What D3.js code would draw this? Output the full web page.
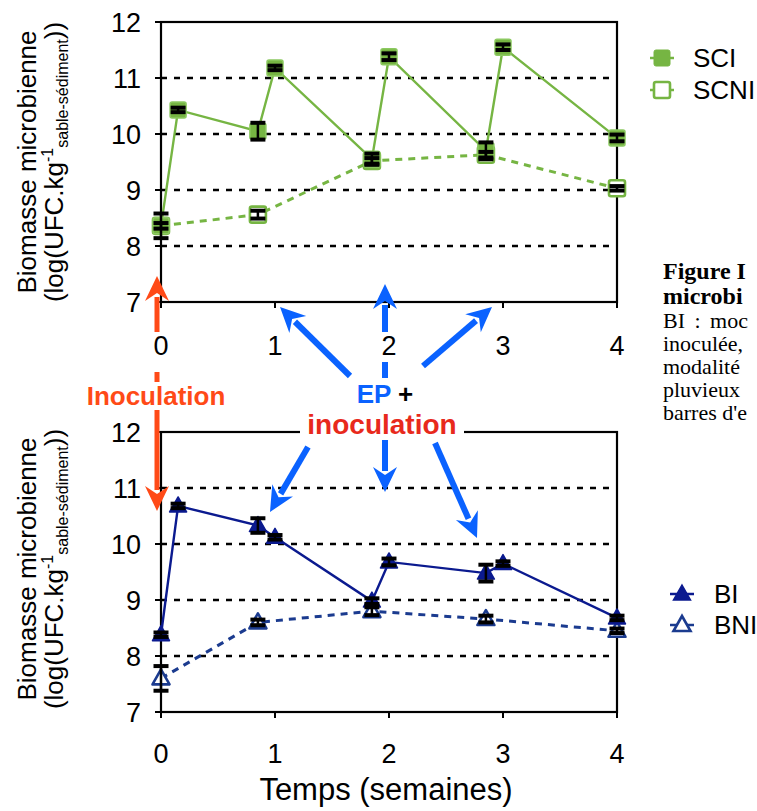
<!DOCTYPE html>
<html>
<head>
<meta charset="utf-8">
<script src="https://cdn.jsdelivr.net/npm/d3@7"></script>
<style>
  body { margin: 0; background: #fff; }
  svg { display: block; font-family: "Liberation Sans", Arial, sans-serif; }
</style>
</head>
<body>
<svg id="chart" width="757" height="811"></svg>
<script>
// weeks for inoculated series (before / after each inoculation)
var weeks = [0, 0.15, 0.85, 1, 1.85, 2, 2.85, 3, 4];
var weeksNI = [0, 0.85, 1.85, 2.85, 4];

var sci = [8.36, 10.43, 10.05, 11.18, 9.55, 11.38, 9.7, 11.55, 9.93];
var sciErr = [0.22, 0.04, 0.15, 0.04, 0.1, 0.06, 0.15, 0.05, 0.06];
var scni = [8.36, 8.56, 9.52, 9.63, 9.03];
var scniErr = [0.05, 0.07, 0.05, 0.05, 0.04];

var bi = [8.38, 10.68, 10.33, 10.12, 8.98, 9.68, 9.48, 9.65, 8.68];
var biErr = [0.04, 0.04, 0.13, 0.04, 0.05, 0.06, 0.15, 0.04, 0.04];
var bni = [7.6, 8.6, 8.8, 8.66, 8.45];
var bniErr = [0.22, 0.05, 0.07, 0.06, 0.04];

var xTicks = [0, 1, 2, 3, 4];
var yTicks = [7, 8, 9, 10, 11, 12];
var gridVals = [8, 9, 10, 11];

var green = "#76b543", navy = "#0b1a8f", navyLight = "#1b3b8f";
var blue = "#0a62ff", red = "#ff4a17", red2 = "#e8291c";

var svg = d3.select("#chart");

var x = d3.scaleLinear().domain([0, 4]).range([161, 617]);
var yTop = d3.scaleLinear().domain([7, 12]).range([302, 22]);
var yBot = d3.scaleLinear().domain([7, 12]).range([712, 432]);

var zip = function(xs, ys, es) {
    return xs.map(function(d, i) { return { x: d, y: ys[i], e: es[i] }; });
};

var drawPanel = function(y) {
    var g = svg.append("g");
    g.selectAll("line.grid")
        .data(gridVals)
      .enter().append("line")
        .attr("x1", x(0)).attr("x2", x(4))
        .attr("y1", y).attr("y2", y)
        .attr("stroke", "#000").attr("stroke-width", 2.5)
        .attr("stroke-dasharray", "6,7");
    g.append("rect")
        .attr("x", x(0)).attr("y", y(12))
        .attr("width", x(4) - x(0)).attr("height", y(7) - y(12))
        .attr("fill", "none").attr("stroke", "#000").attr("stroke-width", 2.2);
    g.selectAll("line.xt")
        .data(xTicks)
      .enter().append("line")
        .attr("x1", x).attr("x2", x)
        .attr("y1", y(7)).attr("y2", y(7) + 6)
        .attr("stroke", "#000").attr("stroke-width", 2);
    g.selectAll("line.yt")
        .data(yTicks)
      .enter().append("line")
        .attr("x1", x(0) - 6).attr("x2", x(0))
        .attr("y1", y).attr("y2", y)
        .attr("stroke", "#000").attr("stroke-width", 2);
    g.selectAll("text.yl")
        .data(yTicks)
      .enter().append("text")
        .attr("x", 141).attr("y", function(d) { return y(d) + 10; })
        .attr("text-anchor", "end").attr("font-size", 27)
        .text(function(d) { return d; });
    return g;
};

var drawXLabels = function(yPos) {
    var g = svg.append("g");
    xTicks.forEach(function(d) {
        g.append("rect").attr("x", x(d) - 10).attr("y", yPos - 23)
            .attr("width", 20).attr("height", 30).attr("fill", "#fff");
        g.append("text").attr("x", x(d)).attr("y", yPos)
            .attr("text-anchor", "middle").attr("font-size", 27).text(d);
    });
};

var drawSeries = function(y, data, color, dashed, marker, filled) {
    var line = d3.line().x(function(d) { return x(d.x); }).y(function(d) { return y(d.y); });
    svg.append("path").datum(data)
        .attr("d", line).attr("fill", "none")
        .attr("stroke", color).attr("stroke-width", dashed ? 3 : 2.4)
        .attr("stroke-dasharray", dashed ? "7,6" : null);
    var m = svg.append("g");
    data.forEach(function(d) {
        var cx = x(d.x), cy = y(d.y);
        if (marker === "square") {
            m.append("rect").attr("x", cx - 8).attr("y", cy - 8)
                .attr("width", 16).attr("height", 16).attr("rx", 2)
                .attr("fill", filled ? color : "#fff")
                .attr("stroke", filled ? "#8cc961" : color).attr("stroke-width", filled ? 1.5 : 2.6);
        } else {
            m.append("path")
                .attr("d", "M" + cx + "," + (cy - 9) + "L" + (cx + 8.5) + "," + (cy + 6) + "L" + (cx - 8.5) + "," + (cy + 6) + "Z")
                .attr("fill", filled ? color : "#fff")
                .attr("stroke", color).attr("stroke-width", filled ? 1.5 : 2.6)
                .attr("stroke-linejoin", "round");
        }
    });
};

var drawErr = function(y, data) {
    var g = svg.append("g").attr("stroke", "#000");
    data.forEach(function(d) {
        var cx = x(d.x);
        g.append("line").attr("x1", cx).attr("x2", cx)
            .attr("y1", y(d.y - d.e)).attr("y2", y(d.y + d.e)).attr("stroke-width", 2.5);
        [d.y - d.e, d.y + d.e].forEach(function(v) {
            g.append("line").attr("x1", cx - 7.5).attr("x2", cx + 7.5)
                .attr("y1", y(v)).attr("y2", y(v)).attr("stroke-width", 4);
        });
    });
};

// panels
drawPanel(yTop);
drawPanel(yBot);

var sciData = zip(weeks, sci, sciErr), scniData = zip(weeksNI, scni, scniErr);
var biData = zip(weeks, bi, biErr), bniData = zip(weeksNI, bni, bniErr);

drawSeries(yTop, scniData, green, true, "square", false);
drawSeries(yTop, sciData, green, false, "square", true);
drawErr(yTop, scniData);
drawErr(yTop, sciData);

drawSeries(yBot, bniData, navyLight, true, "tri", false);
drawSeries(yBot, biData, navy, false, "tri", true);
drawErr(yBot, bniData);
drawErr(yBot, biData);

// annotation arrows
var arrow = function(x1, y1, x2, y2, color, w) {
    var ang = Math.atan2(y2 - y1, x2 - x1);
    var len = 25, half = 12;
    var bx = x2 - len * Math.cos(ang), by = y2 - len * Math.sin(ang);
    svg.append("line").attr("x1", x1).attr("y1", y1)
        .attr("x2", x2 - (len - 4) * Math.cos(ang)).attr("y2", y2 - (len - 4) * Math.sin(ang))
        .attr("stroke", color).attr("stroke-width", w);
    var px = -Math.sin(ang) * half, py = Math.cos(ang) * half;
    svg.append("path")
        .attr("d", "M" + x2 + "," + y2 + "L" + (bx + px) + "," + (by + py) +
            "L" + (x2 - (len - 8) * Math.cos(ang)) + "," + (y2 - (len - 8) * Math.sin(ang)) +
            "L" + (bx - px) + "," + (by - py) + "Z")
        .attr("fill", color);
};

arrow(157, 334, 157, 276, red, 5);
arrow(157, 372, 157, 511, red, 5);

arrow(350, 376, 280, 307, blue, 6);
arrow(385, 378, 385, 284, blue, 6);
arrow(423, 366, 492, 307, blue, 6);

arrow(308, 447, 270, 512, blue, 6);
arrow(385, 440, 385, 492, blue, 6);
arrow(435, 443, 477, 538, blue, 6);

drawXLabels(yTop(7) + 53);
drawXLabels(yBot(7) + 51);

// annotation texts with white backing
svg.append("rect").attr("x", 82).attr("y", 382).attr("width", 150).attr("height", 28).attr("fill", "#fff");
svg.append("text").attr("x", 156).attr("y", 405).attr("text-anchor", "middle")
    .attr("font-size", 26).attr("font-weight", "bold").attr("fill", red).text("Inoculation");

svg.append("rect").attr("x", 352).attr("y", 379).attr("width", 66).attr("height", 26).attr("fill", "#fff");
var ep = svg.append("text").attr("x", 385).attr("y", 403).attr("text-anchor", "middle")
    .attr("font-size", 26).attr("font-weight", "bold");
ep.append("tspan").attr("fill", blue).text("EP");
ep.append("tspan").attr("fill", "#000").text(" +");

svg.append("rect").attr("x", 300).attr("y", 410).attr("width", 164).attr("height", 30).attr("fill", "#fff");
svg.append("text").attr("x", 382).attr("y", 434).attr("text-anchor", "middle")
    .attr("font-size", 28).attr("font-weight", "bold").attr("fill", red2).text("inoculation");

// y titles
var yTitle = function(cy) {
    svg.append("text").attr("transform", "translate(36," + cy + ") rotate(-90)")
        .attr("text-anchor", "middle").attr("font-size", 26).text("Biomasse microbienne");
    var t = svg.append("text").attr("transform", "translate(63," + cy + ") rotate(-90)")
        .attr("text-anchor", "middle").attr("font-size", 26);
    t.append("tspan").text("(log(UFC.kg");
    t.append("tspan").attr("font-size", 16).attr("dy", -10).text("-1");
    t.append("tspan").attr("font-size", 16).attr("dy", 15).text("sable-sédiment");
    t.append("tspan").attr("dy", -5).text("))");
};
yTitle(162);
yTitle(569);

svg.append("text").attr("x", 386).attr("y", 800).attr("text-anchor", "middle")
    .attr("font-size", 31).text("Temps (semaines)");

// legends
var legend = [
    { label: "SCI", y: 58, mk: "square", fill: true, color: green, lx: 650, tx: 693 },
    { label: "SCNI", y: 90, mk: "square", fill: false, color: green, lx: 650, tx: 693 },
    { label: "BI", y: 594, mk: "tri", fill: true, color: navy, lx: 670, tx: 714 },
    { label: "BNI", y: 625, mk: "tri", fill: false, color: navyLight, lx: 670, tx: 714 }
];
legend.forEach(function(d) {
    var cx = d.lx + 12;
    svg.append("line").attr("x1", d.lx).attr("x2", d.lx + 24).attr("y1", d.y).attr("y2", d.y)
        .attr("stroke", d.color).attr("stroke-width", 2.5);
    if (d.mk === "square") {
        svg.append("rect").attr("x", cx - 8).attr("y", d.y - 8).attr("width", 16).attr("height", 16).attr("rx", 2)
            .attr("fill", d.fill ? d.color : "#fff").attr("stroke", d.color).attr("stroke-width", d.fill ? 1 : 2.6);
    } else {
        svg.append("path")
            .attr("d", "M" + cx + "," + (d.y - 9) + "L" + (cx + 8.5) + "," + (d.y + 6) + "L" + (cx - 8.5) + "," + (d.y + 6) + "Z")
            .attr("fill", d.fill ? d.color : "#fff").attr("stroke", d.color).attr("stroke-width", d.fill ? 1.5 : 2.6);
    }
    svg.append("text").attr("x", d.tx).attr("y", d.y + 9).attr("font-size", 26).text(d.label);
});

// caption (cut by the page edge)
var caption = [
    { t: "Figure I", b: true, y: 279 },
    { t: "microbi", b: true, y: 304 },
    { t: "BI : moc", b: false, y: 328 },
    { t: "inoculée,", b: false, y: 351 },
    { t: "modalité", b: false, y: 374 },
    { t: "pluvieux", b: false, y: 397 },
    { t: "barres d'e", b: false, y: 420 }
];
svg.selectAll("text.cap")
    .data(caption)
  .enter().append("text")
    .attr("x", 663).attr("y", function(d) { return d.y; })
    .attr("font-family", "'Liberation Serif', 'Times New Roman', serif")
    .attr("font-size", function(d) { return d.b ? 24 : 22; })
    .attr("font-weight", function(d) { return d.b ? "bold" : "normal"; })
    .attr("word-spacing", function(d) { return d.t === "BI : moc" ? 4 : 0; })
    .text(function(d) { return d.t; });
</script>
</body>
</html>
